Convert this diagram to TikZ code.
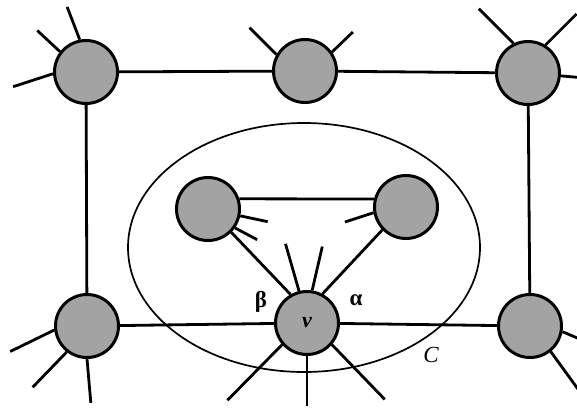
\documentclass[tikz,border=0pt]{standalone}
\usepackage{fontspec}
\setmainfont{Liberation Serif}
\begin{document}
\begin{tikzpicture}[x=1pt,y=-1pt,
  vtx/.style={circle,draw=black,line width=3pt,fill=black!36,minimum size=63pt,inner sep=0pt},
  edge/.style={line width=2.8pt},
  stub/.style={line width=2.8pt},
  region/.style={line width=1.7pt},
  lbl/.style={font=\fontsize{23}{23}\selectfont\bfseries,inner sep=0pt}]
\useasboundingbox (0,0) rectangle (577,407);
% region C
\draw[region] (304,247.5) ellipse [x radius=176pt, y radius=124.5pt];
% vertices
\node[vtx] (TL) at (86,72) {};
\node[vtx] (TM) at (305,71) {};
\node[vtx] (TR) at (528,73) {};
\node[vtx] (BL) at (87,326) {};
\node[vtx] (BR) at (530,326) {};
\node[vtx] (IL) at (208,209) {};
\node[vtx] (IR) at (406,207) {};
\node[vtx,font=\fontsize{22}{22}\selectfont\bfseries\itshape] (v) at (307,323) {ν};
% edges
\draw[edge] (TL) -- (TM);
\draw[edge] (TM) -- (TR);
\draw[edge] (TL) -- (BL);
\draw[edge] (TR) -- (BR);
\draw[edge] (BL) -- (v);
\draw[edge] (v) -- (BR);
\draw[edge] (IL.18) -- (IR.166);
\draw[edge] (IL.-45) -- (v.120);
\draw[edge] (IR.224) -- (v.62);
% stubs
\draw[stub] (TL.101) -- ++(111:35pt);
\draw[stub] (TL.142) -- ++(137:31pt);
\draw[stub] (TL.183) -- ++(198:42pt);
\draw[stub] (TM.150) -- ++(135:38pt);
\draw[stub] (TM.35) -- ++(44:29pt);
\draw[stub] (TR.116) -- ++(135:49pt);
\draw[stub] (TR.58) -- ++(45:44pt);
\draw[stub] (TR.-5) -- ++(-5:22pt);
\draw[stub] (BL.187) -- ++(206:49pt);
\draw[stub] (BL.232) -- ++(226:49pt);
\draw[stub] (BL.270) -- ++(275:44pt);
\draw[stub] (BR.-10) -- ++(-23:22pt);
\draw[stub] (BR.-51) -- ++(-54:48pt);
\draw[stub] (IL.-12) -- ++(-12:28pt);
\draw[stub] (IL.-35) -- ++(-28:25pt);
\draw[stub] (IR.190) -- ++(198:30pt);
\draw[stub] (v.104) -- ++(106:49pt);
\draw[stub] (v.81) -- ++(77:45pt);
\draw[stub] (v.221) -- ++(225.5:78pt);
\draw[stub] (v.270) -- ++(270:50pt);
\draw[stub] (v.-41) -- ++(-46:76pt);
% labels
\node[lbl] (beta) at (261,302) {β};
\node[lbl] (alpha) at (356,300) {α};
\node[lbl,font=\fontsize{23}{23}\selectfont\itshape] (C) at (431,355) {C};
\end{tikzpicture}
\end{document}
